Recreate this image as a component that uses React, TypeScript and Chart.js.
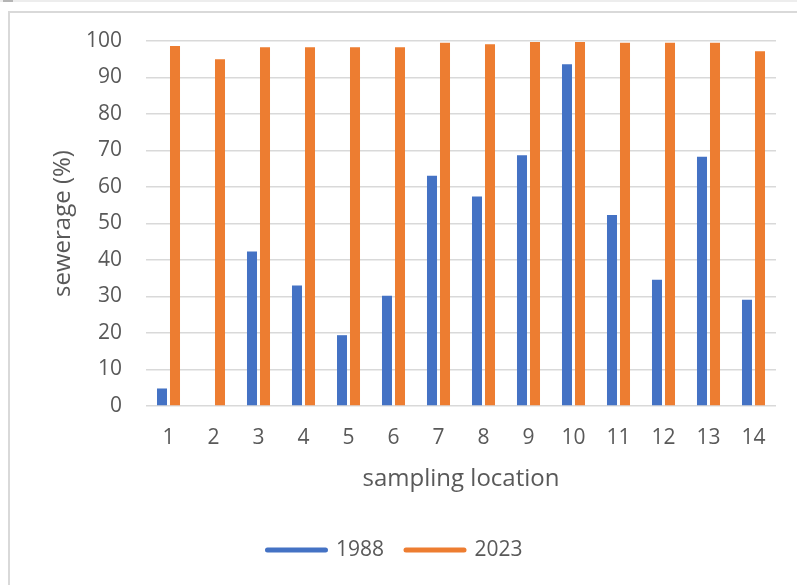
import React, { useEffect, useRef } from "react";
import { Chart, registerables } from "chart.js";

Chart.register(...registerables);

const locations = ["1", "2", "3", "4", "5", "6", "7", "8", "9", "10", "11", "12", "13", "14"];
const sewerage1988 = [4.8, 0, 42.3, 33.0, 19.4, 30.2, 63.1, 57.4, 68.7, 93.6, 52.3, 34.6, 68.3, 29.1];
const sewerage2023 = [98.6, 95.0, 98.3, 98.3, 98.3, 98.3, 99.5, 99.1, 99.7, 99.7, 99.5, 99.5, 99.5, 97.2];
const seriesNames = ["1988", "2023"];
const seriesColors = ["#4472C4", "#ED7D31"];

const FONT = "'Open Sans', 'Noto Sans', sans-serif";
const TEXT = "#595959";

export default function App() {
  const canvasRef = useRef<HTMLCanvasElement | null>(null);

  useEffect(() => {
    const canvas = canvasRef.current;
    if (!canvas) return;
    const chart = new Chart(canvas, {
      type: "bar",
      data: {
        labels: locations,
        datasets: [
          { label: seriesNames[0], data: sewerage1988, backgroundColor: seriesColors[0] },
          { label: seriesNames[1], data: sewerage2023, backgroundColor: seriesColors[1] },
        ],
      },
      options: {
        responsive: false,
        animation: false,
        devicePixelRatio: 1,
        layout: { padding: { left: 14, right: 21, top: 41, bottom: 14.5 } },
        datasets: { bar: { categoryPercentage: 0.578, barPercentage: 0.77 } },
        plugins: {
          tooltip: { enabled: false },
          legend: {
            position: "bottom",
            labels: {
              usePointStyle: true,
              pointStyleWidth: 58,
              padding: 22,
              color: TEXT,
              font: { family: FONT, size: 21 },
              generateLabels: (c: any) =>
                c.data.datasets.map((ds: any, i: number) => ({
                  text: ds.label,
                  fillStyle: seriesColors[i],
                  strokeStyle: seriesColors[i],
                  lineWidth: 5,
                  lineCap: "round",
                  pointStyle: "line",
                  fontColor: TEXT,
                  hidden: false,
                  datasetIndex: i,
                })),
            },
          },
        },
        scales: {
          x: {
            afterFit: (s: any) => { s.height = 111.5; },
            grid: { display: false, drawTicks: false },
            border: { display: false },
            ticks: { color: TEXT, padding: 19, font: { family: FONT, size: 21 } },
            title: {
              display: true,
              text: "sampling location",
              color: TEXT,
              font: { family: FONT, size: 24 },
              padding: { top: 0, bottom: 24 },
            },
          },
          y: {
            min: 0,
            max: 100,
            afterFit: (s: any) => { s.width = 132; },
            grid: { color: "#d9d9d9", lineWidth: 1.5, drawTicks: false },
            border: { display: false },
            ticks: { stepSize: 10, color: TEXT, padding: 24, font: { family: FONT, size: 21 } },
            title: {
              display: true,
              text: "sewerage (%)",
              color: TEXT,
              font: { family: FONT, size: 24 },
              padding: { top: 34.5, bottom: 0 },
            },
          },
        },
      },
    });
    return () => chart.destroy();
  }, []);

  return (
    <div style={{ position: "fixed", left: 0, top: 0, width: 797, height: 585, background: "#fff", overflow: "hidden" }}>
      <div style={{ position: "absolute", left: 0, top: 0, width: 797, height: 2, background: "#ededed" }} />
      <div style={{ position: "absolute", left: 3, top: 0, width: 10, height: 2, background: "#b5b5b5" }} />
      <div
        style={{
          position: "absolute",
          left: 8,
          top: 11,
          width: 900,
          height: 700,
          borderLeft: "2px solid #d9d9d9",
          borderTop: "2px solid #d9d9d9",
        }}
      />
      <canvas ref={canvasRef} width={797} height={585} style={{ position: "absolute", left: 0, top: 0, width: 797, height: 585 }} />
    </div>
  );
}
